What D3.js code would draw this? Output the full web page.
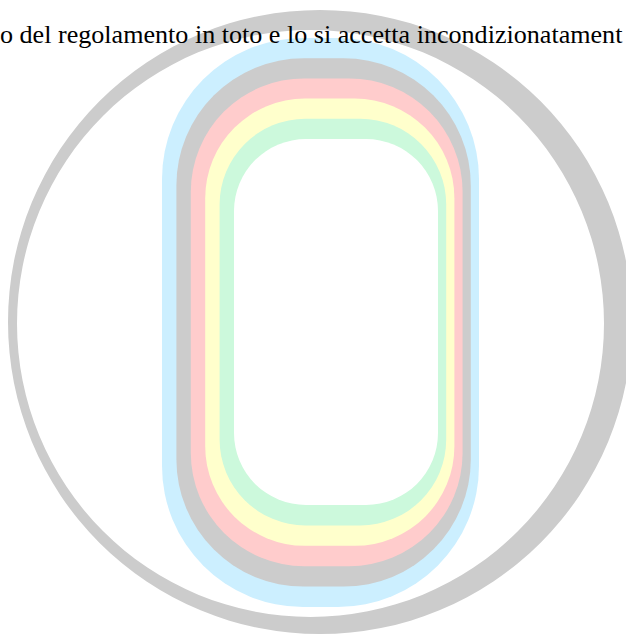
<!DOCTYPE html>
<html>
<head>
<meta charset="utf-8">
<script src="https://cdn.jsdelivr.net/npm/d3@7"></script>
<style>
html,body{margin:0;padding:0;background:#fff;overflow:hidden;}
svg{display:block;}
</style>
</head>
<body>
<script>
// ---- data ----
const caption = "o del regolamento in toto e lo si accetta incondizionatament";
const bandNames = ["blue", "grey", "red", "yellow", "green", "white"];
const bandColors = ["#ccefff", "#cccccc", "#ffcccc", "#ffffcc", "#ccf9dc", "#ffffff"];
const bandLevels = [0, 1, 2, 3, 4, 5];
const ringColor = "#cccccc";

const W = 626, H = 635;
const svg = d3.select("body").append("svg").attr("width", W).attr("height", H);

// scales mapping band level -> edges of nested stadium shapes
const leftS   = d3.scaleLinear().domain([0, 5]).range([162, 234]);
const rightS  = d3.scaleLinear().domain([0, 5]).range([479, 438]);
const topS    = d3.scaleLinear().domain([0, 5]).range([38, 139]);
const bottomS = d3.scaleLinear().domain([0, 5]).range([607, 505]);
const radiusS = d3.scaleLinear().domain([0, 5]).range([141, 72]);

// outer grey crescent ring (two offset circles, even-odd fill)
function circlePath(cx, cy, r) {
  const p = d3.path();
  p.moveTo(cx + r, cy);
  p.arc(cx, cy, r, 0, 2 * Math.PI);
  p.closePath();
  return p.toString();
}
svg.append("path")
  .attr("d", circlePath(320, 322, 312) + circlePath(310.5, 323.5, 293.5))
  .attr("fill", ringColor)
  .attr("fill-rule", "evenodd");

// stacked stadiums
svg.append("g").selectAll("rect")
  .data(bandLevels)
  .join("rect")
  .attr("x", d => leftS(d))
  .attr("y", d => topS(d))
  .attr("width", d => rightS(d) - leftS(d))
  .attr("height", d => bottomS(d) - topS(d))
  .attr("rx", d => radiusS(d))
  .attr("ry", d => radiusS(d))
  .attr("fill", (d, i) => bandColors[i]);

// caption
svg.append("text")
  .attr("x", 0)
  .attr("y", 43)
  .attr("font-family", "'Liberation Serif', 'Times New Roman', serif")
  .attr("font-size", 26.1)
  .attr("fill", "#000")
  .text(caption);
</script>
</body>
</html>
